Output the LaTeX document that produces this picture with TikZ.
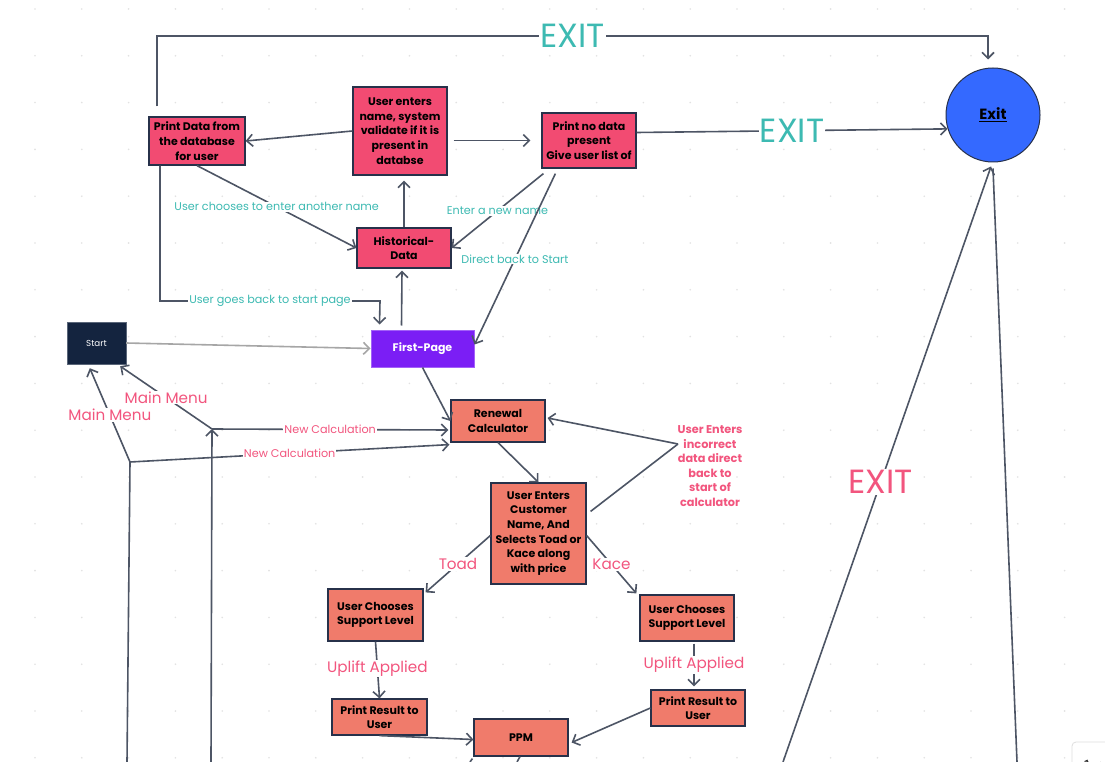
\documentclass[tikz,border=0pt]{standalone}
\usepackage{fontspec}
\setmainfont{Poppins}
\usetikzlibrary{arrows.meta,calc}

\definecolor{hotpink}{HTML}{F24B72}
\definecolor{salmon}{HTML}{F07B6B}
\definecolor{boxedge}{HTML}{27314A}
\definecolor{arrowgray}{HTML}{4D5565}
\definecolor{tealtxt}{HTML}{3DBAB2}
\definecolor{pinktxt}{HTML}{F2557E}
\definecolor{startnavy}{HTML}{14243F}
\definecolor{firstpurple}{HTML}{7B1EF5}
\definecolor{exitblue}{HTML}{3469FF}
\definecolor{dotgray}{HTML}{E2E2E2}

\tikzset{
  box/.style={draw=boxedge, line width=1.2pt, align=center, inner sep=1pt,
    font=\bfseries\fontsize{11}{14.7}\selectfont, text=black},
  pinkbox/.style={box, fill=hotpink},
  calcbox/.style={box, fill=salmon},
  line/.style={draw=arrowgray, line width=1.6pt},
  arr/.style={line, -{Straight Barb[length=6pt,width=12pt]}},
  tealtext/.style={fill=white, text=tealtxt, inner sep=1pt, font=\fontsize{11.2}{13}\selectfont},
  pinktext/.style={fill=white, text=pinktxt, inner sep=1pt, font=\fontsize{11.2}{13}\selectfont},
  bigpink/.style={fill=white, text=pinktxt, inner sep=1pt, font=\fontsize{15.2}{17}\selectfont},
  exitteal/.style={fill=white, text=tealtxt, inner sep=1pt, font=\fontsize{33.5}{35}\selectfont},
  exitpink/.style={fill=white, text=pinktxt, inner sep=1pt, font=\fontsize{33.5}{35}\selectfont}
}

\begin{document}
\begin{tikzpicture}[x=1pt,y=-1pt]

\fill[white] (0,0) rectangle (1105,762);
\useasboundingbox (0,0) rectangle (1105,762);

\foreach \i in {0,...,22}{
  \foreach \j in {0,...,16}{
    \fill[dotgray] (35+46.8*\i,9+46.8*\j) circle (0.9pt);
  }
}

\node[pinkbox, minimum width=96pt, minimum height=48pt] (printdata) at (197,141) {Print Data from\\the database\\for user};
\node[pinkbox, minimum width=94pt, minimum height=88pt] (userenters) at (400,131) {User enters\\name, system\\validate if it is\\present in\\databse};
\node[pinkbox, minimum width=94pt, minimum height=55pt] (nodata) at (589,140.5) {Print no data\\present\\Give user list of};
\node[pinkbox, minimum width=94pt, minimum height=40pt] (hist) at (404,248) {Historical-\\Data};
\node[circle, draw=boxedge, fill=exitblue, line width=1pt, minimum size=94pt,
  font=\bfseries\fontsize{14.8}{16}\selectfont] (exitc) at (993,115) {\underline{Exit}};

\node[fill=startnavy, draw=startnavy!70, minimum width=59pt, minimum height=42pt, text=white,
  font=\fontsize{8.7}{10}\selectfont] (start) at (96.5,343) {Start};
\node[fill=firstpurple, draw=firstpurple!70!white, line width=1pt, minimum width=103pt, minimum height=37pt,
  text=white, font=\bfseries\fontsize{11}{13}\selectfont] (first) at (422.5,348.5) {First-Page};

\node[calcbox, minimum width=94pt, minimum height=42pt] (renewal) at (498,421) {Renewal\\Calculator};
\node[calcbox, minimum width=95pt, minimum height=101pt] (customer) at (538.5,533.5) {User Enters\\Customer\\Name, And\\Selects Toad or\\Kace along\\with price};
\node[calcbox, minimum width=95pt, minimum height=52pt] (chooseL) at (375.5,615) {User Chooses\\Support Level};
\node[calcbox, minimum width=94pt, minimum height=46pt] (chooseR) at (687,618) {User Chooses\\Support Level};
\node[calcbox, minimum width=95pt, minimum height=36pt] (resultL) at (379.5,717) {Print Result to\\User};
\node[calcbox, minimum width=94pt, minimum height=36pt] (resultR) at (698,708) {Print Result to\\User};
\node[calcbox, minimum width=94pt, minimum height=37pt] (ppm) at (521,737.5) {PPM};

\node[text=pinktxt, align=center, font=\bfseries\fontsize{11.3}{14.6}\selectfont] (wronglbl) at (710,466)
  {User Enters\\incorrect\\data direct\\back to\\start of\\calculator};

\coordinate (tl) at (157,36);
\coordinate (tr) at (988,36);
\coordinate (bl) at (160,301);
\coordinate (br) at (380,301);
\coordinate (lb) at (127,762);
\coordinate (lj) at (130,462);
\coordinate (mb) at (211,762);
\coordinate (mj) at (212,429);
\coordinate (rt) at (678,444);
\coordinate (eb) at (783,762);
\coordinate (rb) at (1017,762);

\draw[arr] ($(printdata.north)+(-40,-10)$) -- (tl) -- node[exitteal] {EXIT} (tr) -- ($(exitc.north)+(-5,-8)$);
\draw[arr] (userenters.west) -- (printdata.east);
\draw[arr] ($(userenters.east |- nodata.west)+(6,0)$) -- ($(nodata.west)+(-11,0)$);
\draw[arr] ($(nodata.east)+(0,-8)$) -- node[exitteal] {EXIT} (exitc.197);
\draw[arr] (hist.north) -- ($(userenters.south)+(4,5)$);
\draw[arr] (printdata.south) -- node[tealtext] {User chooses to enter another name} (hist.west);
\draw[arr] ($(nodata.south west)+(2,5)$) -- node[tealtext] {Enter a new name} (hist.east);
\draw[arr] ($(nodata.south west)+(14,5)$) -- node[tealtext] {Direct back to Start} ($(first.east)+(0,-4)$);
\draw[arr] ($(printdata.south)+(-37,0)$) -- (bl) -- node[tealtext] {User goes back to start page} (br) -- ($(first.north west)+(9,-5)$);
\draw[arr] ($(first.north west)+(31,-4)$) -- ($(hist.south)+(-2,2)$);

\draw[arr, draw=gray!70] (start.east) -- (first.west);
\draw[arr] (first.south) -- (renewal.west);

\draw[line] (lb) -- (lj);
\draw[arr] (lj) -- node[bigpink] {Main Menu} ($(start.south west)+(23,4)$);
\draw[arr] (lj) -- node[pinktext] {New Calculation} ($(renewal.south west)+(-1,2)$);
\draw[arr] (mb) -- (mj);
\draw[arr] (mj) -- node[bigpink] {Main Menu} ($(start.south east)+(-6,2)$);
\draw[arr] (mj) -- node[pinktext] {New Calculation} ($(renewal.west)+(-2,9)$);

\draw[arr] (renewal.south) -- (customer.north);
\draw[line] ($(customer.north east)+(4,29)$) -- (rt);
\draw[arr] (rt) -- ($(renewal.east)+(2,-3)$);
\draw[arr] ($(customer.west)+(0,2)$) -- node[bigpink] {Toad} ($(chooseL.north east)+(2,4)$);
\draw[arr] ($(customer.east)+(0,2)$) -- node[bigpink] {Kace} ($(chooseR.north west)+(-3,-1)$);
\draw[arr] (chooseL.south) -- node[bigpink, pos=0.47] {Uplift Applied} (resultL.north);
\draw[arr] ($(chooseR.south)+(7,2)$) -- node[bigpink, pos=0.5] {Uplift Applied} ($(resultR.north)+(-4,-3)$);
\draw[arr] (resultL.south) -- ($(ppm.west)+(0,2)$);
\draw[arr] (resultR.west) -- ($(ppm.east)+(3,5)$);
\draw[line] ($(ppm.south west)+(-1,2)$) -- (470,762);
\draw[line] ($(ppm.south)+(-1,0)$) -- (517,762);

\draw[arr] (eb) -- node[exitpink, pos=0.47] {EXIT} ($(exitc.south)+(-2,4)$);
\draw[line] (rb) -- ($(exitc.south)+(0,6)$);

\draw[gray!25, line width=0.8pt, rounded corners=4pt, fill=white] (1072,742) rectangle (1112,772);
\draw[black!80, line width=1.1pt, -{Straight Barb[length=2pt,width=4pt]}] (1101,762) arc (0:200:7);

\end{tikzpicture}
\end{document}
